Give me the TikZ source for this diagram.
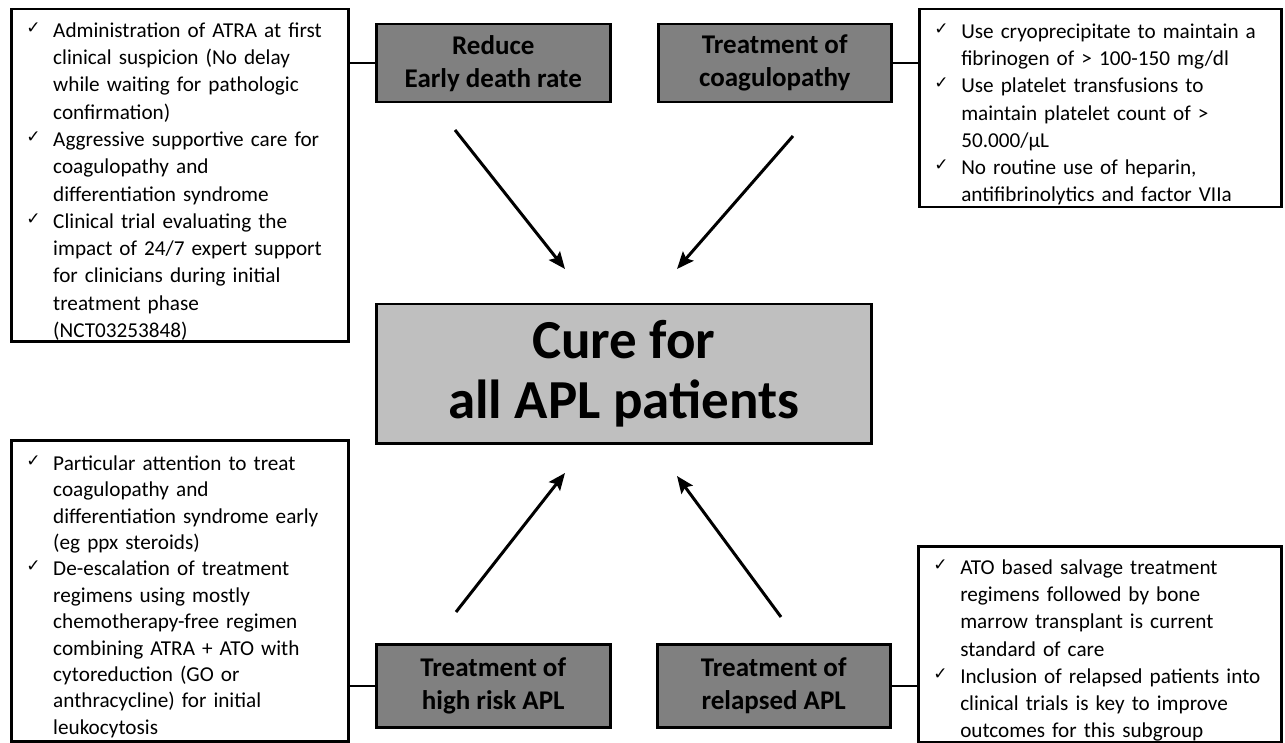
\documentclass[tikz,border=0pt]{standalone}
\usepackage{fontspec}
\setmainfont{Carlito}
\newfontfamily\checkfont{DejaVu Sans}
\usetikzlibrary{arrows.meta}
\definecolor{topicgrey}{gray}{0.5}
\definecolor{curegrey}{gray}{0.75}
% one ticked entry of a list box
\newcommand{\chkitem}{\par\hangindent=27pt\hangafter=1\noindent
  \makebox[27pt][l]{\raisebox{4pt}{\checkfont\fontsize{17}{17}\selectfont ✓}}}
\tikzset{every node/.style={font=\fontsize{21.2}{27.2}\selectfont},
  listbox/.style={draw,line width=2.5pt,anchor=north west,inner xsep=15pt,
    inner ysep=0pt,align=left},
  topicbox/.style={draw,line width=2.5pt,fill=topicgrey,anchor=north west,
    align=center,font={\bfseries\fontsize{27}{33}\selectfont}},
  curebox/.style={draw,line width=2.5pt,fill=curegrey,anchor=north west,
    align=center,font={\bfseries\fontsize{55}{60}\selectfont}},
  link/.style={line width=2pt},
  toward/.style={line width=3pt,-{Stealth[length=17pt,width=14pt,inset=3pt]}}}

\begin{document}
\begin{tikzpicture}[x=1pt,y=-1pt]
  \useasboundingbox (0,0) rectangle (1285,743);
  % centre
  \node[curebox,minimum width=495pt,minimum height=139pt] (cure) at (375,303)
    {Cure for\\all APL patients};
  % topics
  \node[topicbox,minimum width=234pt,minimum height=78pt] (reduce) at (375,23)
    {Reduce\\Early death rate};
  \node[topicbox,minimum width=233pt,minimum height=78pt] (coag) at (657,23)
    {Treatment of\\coagulopathy};
  \node[topicbox,minimum width=234pt,minimum height=83pt] (highrisk) at (375,643)
    {Treatment of\\high risk APL};
  \node[topicbox,minimum width=233pt,minimum height=83pt] (relapsed) at (656,643)
    {Treatment of\\relapsed APL};
  % lists
  \node[listbox,text width=307pt,minimum height=332pt,
    font=\fontsize{21.2}{27.3}\selectfont] (earlylist) at (10,8)
    {\chkitem Administration of ATRA at first\newline clinical suspicion (No delay\newline
     while waiting for pathologic\newline confirmation)
     \chkitem Aggressive supportive care for\newline coagulopathy and\newline
     differentiation syndrome
     \chkitem Clinical trial evaluating the\newline impact of 24/7 expert support\newline
     for clinicians during initial\newline treatment phase\newline (NCT03253848)\par};
  \node[listbox,text width=332pt,minimum height=198pt] (coaglist) at (918,8)
    {\chkitem Use cryoprecipitate to maintain a\newline fibrinogen of > 100-150 mg/dl
     \chkitem Use platelet transfusions to\newline maintain platelet count of >\newline
     50.000/μL
     \chkitem No routine use of heparin,\newline antifibrinolytics and factor VIIa\par};
  \node[listbox,text width=307pt,minimum height=301pt,
    font=\fontsize{21.2}{26.4}\selectfont] (highlist) at (10,439)
    {\chkitem Particular attention to treat\newline coagulopathy and\newline
     differentiation syndrome early\newline (eg ppx steroids)
     \chkitem De-escalation of treatment\newline regimens using mostly\newline
     chemotherapy-free regimen\newline combining ATRA + ATO with\newline
     cytoreduction (GO or\newline anthracycline) for initial\newline leukocytosis\par};
  \node[listbox,text width=333pt,minimum height=196pt] (relapselist) at (917,545)
    {\chkitem ATO based salvage treatment\newline regimens followed by bone\newline
     marrow transplant is current\newline standard of care
     \chkitem Inclusion of relapsed patients into\newline clinical trials is key to improve\newline
     outcomes for this subgroup\par};
  % links to the lists
  \draw[link] (reduce.west) -- (reduce.west -| earlylist.east);
  \draw[link] (coag.east) -- (coag.east -| coaglist.west);
  \draw[link] (highrisk.west) -- (highrisk.west -| highlist.east);
  \draw[link] (relapsed.east) -- (relapsed.east -| relapselist.west);
  % arrows into the centre
  \coordinate (reduce-tail) at (455,130);
  \coordinate (reduce-tip) at (565,269);
  \coordinate (coag-tail) at (793,136);
  \coordinate (coag-tip) at (677,269);
  \coordinate (highrisk-tail) at (456,612);
  \coordinate (highrisk-tip) at (565,473);
  \coordinate (relapsed-tail) at (781,617);
  \coordinate (relapsed-tip) at (677,476);
  \foreach \t in {reduce,coag,highrisk,relapsed}
    \draw[toward] (\t-tail) -- (\t-tip);
\end{tikzpicture}
\end{document}
